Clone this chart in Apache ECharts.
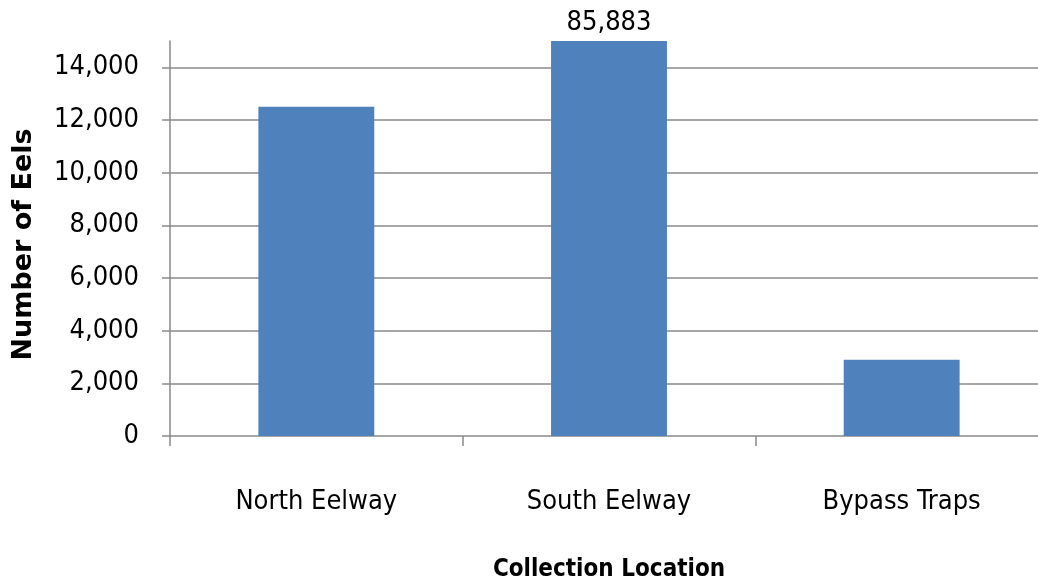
<!DOCTYPE html>
<html>
<head>
<meta charset="utf-8">
<script src="https://cdn.jsdelivr.net/npm/echarts@6/dist/echarts.min.js"></script>
<style>
html,body{margin:0;padding:0;background:#fff;}
#chart{width:1038px;height:586px;}
</style>
</head>
<body>
<div id="chart"></div>
<script>
var categories = ['North Eelway', 'South Eelway', 'Bypass Traps'];
var eelCounts = [12500, 85883, 2900];
var yTickValues = [0, 2000, 4000, 6000, 8000, 10000, 12000, 14000];
var yAxisMax = 15000;
var xAxisTitle = 'Collection Location';
var yAxisTitle = 'Number of Eels';

var NARROW = "'Liberation Sans Narrow', 'DejaVu Sans Condensed', sans-serif";
var gridColor = '#8a8a8a';

function fmt(v) { return v.toLocaleString('en-US'); }

var chart = echarts.init(document.getElementById('chart'));
chart.setOption({
  animation: false,
  backgroundColor: '#ffffff',
  grid: { left: 170, right: -10, top: 41, bottom: 150, containLabel: false, outerBoundsMode: 'none' },
  xAxis: {
    type: 'category',
    data: categories,
    boundaryGap: true,
    name: xAxisTitle,
    nameLocation: 'middle',
    nameGap: 122,
    nameTextStyle: { fontFamily: NARROW, fontWeight: 'bold', fontSize: 24, color: '#000' },
    axisLine: { show: true, lineStyle: { color: gridColor, width: 1.5 } },
    axisTick: { show: true, alignWithLabel: false, length: 10, lineStyle: { color: gridColor, width: 1.5 } },
    axisLabel: { fontFamily: NARROW, fontSize: 27, color: '#000', margin: 52 },
    splitLine: { show: false }
  },
  yAxis: {
    type: 'value',
    min: 0,
    max: yAxisMax,
    interval: 2000,
    name: yAxisTitle,
    nameLocation: 'middle',
    nameRotate: 90,
    nameGap: 133,
    nameTextStyle: { fontFamily: "'DejaVu Sans', sans-serif", fontWeight: 'bold', fontSize: 27, color: '#000', padding: [0, 12, 0, 0] },
    axisLine: { show: true, lineStyle: { color: gridColor, width: 1.5 } },
    axisTick: { show: true, inside: false, length: 8, customValues: yTickValues, lineStyle: { color: gridColor, width: 1.5 } },
    axisLabel: { fontFamily: NARROW, fontSize: 27, color: '#000', margin: 31, customValues: yTickValues, formatter: function (v) { return fmt(v); } },
    splitLine: { show: false }
  },
  series: [{
    type: 'bar',
    data: eelCounts.map(function (v) { return Math.min(v, yAxisMax); }),
    barWidth: '39.6%',
    itemStyle: { color: '#4f81bd' },
    label: {
      show: true,
      position: 'top',
      distance: 5,
      fontFamily: NARROW,
      fontSize: 27,
      color: '#000',
      formatter: function (p) {
        var actual = eelCounts[p.dataIndex];
        return actual > yAxisMax ? fmt(actual) : '';
      }
    },
    markLine: {
      silent: true,
      symbol: 'none',
      label: { show: false },
      lineStyle: { color: gridColor, width: 1.5, type: 'solid' },
      z: 1,
      data: yTickValues.slice(1).map(function (v) { return { yAxis: v }; })
    },
    z: 2
  }]
});
</script>
</body>
</html>
